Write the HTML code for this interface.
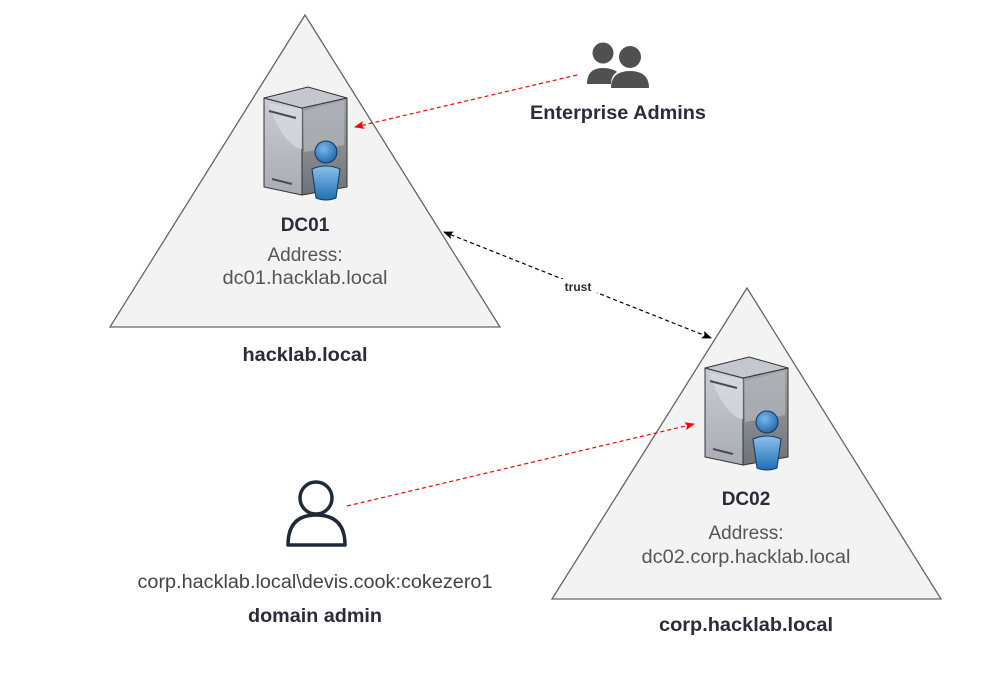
<!DOCTYPE html>
<html><head><meta charset="utf-8"><style>
html,body{margin:0;padding:0;background:#fff;}
svg{display:block;font-family:"Liberation Sans",Arial,sans-serif;}
</style></head><body>
<svg width="1000" height="673" viewBox="0 0 1000 673" xmlns="http://www.w3.org/2000/svg">
<defs>
<linearGradient id="lf" x1="0" y1="0" x2="0" y2="1"><stop offset="0" stop-color="#c9ccd3"/><stop offset="1" stop-color="#a9acb2"/></linearGradient>
<linearGradient id="rf" x1="0" y1="0" x2="0" y2="1"><stop offset="0" stop-color="#a3a5a9"/><stop offset="1" stop-color="#6f7276"/></linearGradient>
<linearGradient id="pb" x1="0" y1="0" x2="0" y2="1"><stop offset="0" stop-color="#8cc0ea"/><stop offset="1" stop-color="#1f6fb5"/></linearGradient>
<radialGradient id="ph" cx="0.4" cy="0.35" r="0.7"><stop offset="0" stop-color="#7ab8ec"/><stop offset="1" stop-color="#1d67aa"/></radialGradient>
<g id="srv">
  <polygon points="0,11 38,21 38,108 0,100" fill="url(#lf)" stroke="#333" stroke-width="1"/>
  <polygon points="38,21 83,11 83,100 38,108" fill="url(#rf)" stroke="#333" stroke-width="1"/>
  <polygon points="0,11 44,0 83,11 38,21" fill="#c4c7ce" stroke="#333" stroke-width="1"/>
  <path d="M4,16 Q20,60 38,62 L38,22 Z" fill="#d6d9df" opacity="0.8"/>
  <path d="M40,24 L80,14 L80,58 Q60,62 40,65 Z" fill="#b4b6ba" opacity="0.7"/>
  <line x1="5" y1="24" x2="32" y2="31" stroke="#4a4c50" stroke-width="2"/>
  <line x1="8" y1="92" x2="28" y2="97" stroke="#4a4c50" stroke-width="2"/>
  <path d="M48,82 Q62,76 76,82 L72,111 Q62,115 52,111 Z" fill="url(#pb)" stroke="#0d3a66" stroke-width="1"/>
  <circle cx="62" cy="65" r="11" fill="url(#ph)" stroke="#0d3a66" stroke-width="1"/>
</g>
<marker id="ar" markerWidth="10" markerHeight="8" refX="9" refY="4" orient="auto" markerUnits="userSpaceOnUse"><path d="M0,0 L10,4 L0,8 L2,4 Z" fill="#ff0000"/></marker>
<marker id="ab" markerWidth="10" markerHeight="8" refX="9" refY="4" orient="auto" markerUnits="userSpaceOnUse"><path d="M0,0 L10,4 L0,8 L2,4 Z" fill="#000"/></marker>
<marker id="abs" markerWidth="10" markerHeight="8" refX="1" refY="4" orient="auto" markerUnits="userSpaceOnUse"><path d="M10,0 L0,4 L10,8 L8,4 Z" fill="#000"/></marker>
</defs>

<polygon points="305,15 500,327 110,327" fill="#f3f3f3" stroke="#666" stroke-width="1.3"/>
<polygon points="747,288 941,599 552,599" fill="#f3f3f3" stroke="#666" stroke-width="1.3"/>

<use href="#srv" x="264" y="87"/>
<use href="#srv" x="705" y="357"/>

<text x="305" y="231" font-size="19" font-weight="bold" fill="#2b2b3b" text-anchor="middle">DC01</text>
<text x="305" y="261" font-size="19" fill="#555" text-anchor="middle">Address:</text>
<text x="305" y="284" font-size="19" fill="#555" text-anchor="middle" textLength="165" lengthAdjust="spacingAndGlyphs">dc01.hacklab.local</text>
<text x="305" y="361" font-size="19" font-weight="bold" fill="#2b2b3b" text-anchor="middle" textLength="125" lengthAdjust="spacingAndGlyphs">hacklab.local</text>

<text x="746" y="505" font-size="19" font-weight="bold" fill="#2b2b3b" text-anchor="middle">DC02</text>
<text x="746" y="539" font-size="19" fill="#555" text-anchor="middle">Address:</text>
<text x="746" y="563" font-size="19" fill="#555" text-anchor="middle" textLength="209" lengthAdjust="spacingAndGlyphs">dc02.corp.hacklab.local</text>
<text x="746" y="631" font-size="19" font-weight="bold" fill="#2b2b3b" text-anchor="middle" textLength="174" lengthAdjust="spacingAndGlyphs">corp.hacklab.local</text>

<!-- group icon -->
<g fill="#505050">
  <circle cx="603" cy="53" r="10.5"/>
  <path d="M587,84 Q587,68 603,68 Q612,68 617,72 Q611,76 611,84 Z"/>
  <circle cx="630" cy="57" r="11"/>
  <path d="M611,88 Q611,71 630,71 Q649,71 649,88 Z"/>
</g>
<text x="618" y="119" font-size="19" font-weight="bold" fill="#2b2b3b" text-anchor="middle" textLength="176" lengthAdjust="spacingAndGlyphs">Enterprise Admins</text>

<!-- user icon -->
<circle cx="316" cy="498" r="16" fill="none" stroke="#1e2a38" stroke-width="3.5"/>
<path d="M288,545 Q288,515 316,515 Q345,515 345,545 Z" fill="none" stroke="#1e2a38" stroke-width="3.5" stroke-linejoin="round"/>
<text x="315" y="588" font-size="19" fill="#444" text-anchor="middle" textLength="355" lengthAdjust="spacingAndGlyphs">corp.hacklab.local\devis.cook:cokezero1</text>
<text x="315" y="622" font-size="19" font-weight="bold" fill="#2b2b3b" text-anchor="middle" textLength="134" lengthAdjust="spacingAndGlyphs">domain admin</text>

<!-- connectors -->
<line x1="577" y1="75" x2="355" y2="127" stroke="#ff0000" stroke-width="1.2" stroke-dasharray="4,3" marker-end="url(#ar)"/>
<line x1="347" y1="506" x2="694" y2="424" stroke="#ff0000" stroke-width="1.2" stroke-dasharray="4,3" marker-end="url(#ar)"/>
<line x1="444" y1="232" x2="711" y2="338" stroke="#000" stroke-width="1.2" stroke-dasharray="4,3" marker-start="url(#abs)" marker-end="url(#ab)"/>
<rect x="559" y="279" width="38" height="14" fill="#fff"/>
<text x="578" y="291" font-size="12" font-weight="bold" fill="#2b2b3b" text-anchor="middle">trust</text>
</svg>
</body></html>
